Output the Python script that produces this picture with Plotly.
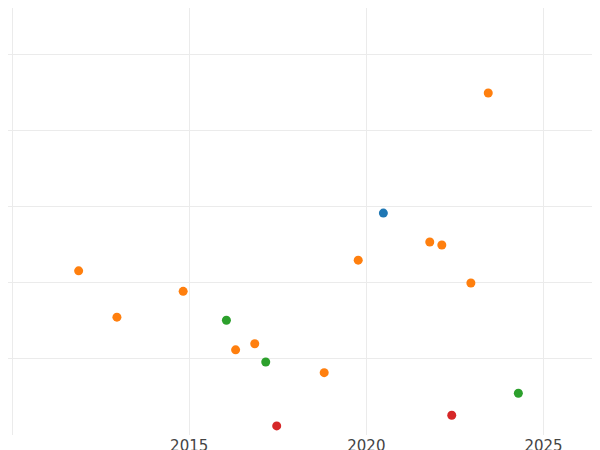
import plotly.graph_objects as go

orange_x = [2011.88, 2012.96, 2014.83, 2016.31, 2016.85, 2018.81, 2019.77, 2021.79, 2022.13, 2022.95, 2023.44]
orange_y = [2.16, 1.55, 1.89, 1.12, 1.20, 0.82, 2.30, 2.54, 2.50, 2.00, 4.50]
blue_x = [2020.48]
blue_y = [2.92]
green_x = [2016.05, 2017.16, 2024.29]
green_y = [1.51, 0.96, 0.55]
red_x = [2017.47, 2022.41]
red_y = [0.12, 0.26]

fig = go.Figure()
for xs, ys, c in [(blue_x, blue_y, "#1f77b4"), (orange_x, orange_y, "#ff7f0e"),
                  (green_x, green_y, "#2ca02c"), (red_x, red_y, "#d62728")]:
    fig.add_trace(go.Scatter(x=xs, y=ys, mode="markers", marker=dict(color=c, size=9)))

fig.update_layout(
    width=600, height=450, showlegend=False,
    paper_bgcolor="white", plot_bgcolor="white",
    margin=dict(l=0, r=0, t=0, b=23, pad=0),
    font=dict(family="DejaVu Sans", size=15, color="#444"),
    xaxis=dict(range=[2009.886, 2026.82], tickvals=[2010, 2015, 2020, 2025],
               ticktext=["", "2015", "2020", "2025"], showgrid=True, gridcolor="#ebebeb",
               zeroline=False, showline=False, automargin=False, ticklen=0, ticks=""),
    yaxis=dict(range=[0, 5.618], dtick=1, showticklabels=False, showgrid=True,
               gridcolor="#ebebeb", zeroline=False, automargin=False, ticks=""),
)
fig.write_html("out.html")
